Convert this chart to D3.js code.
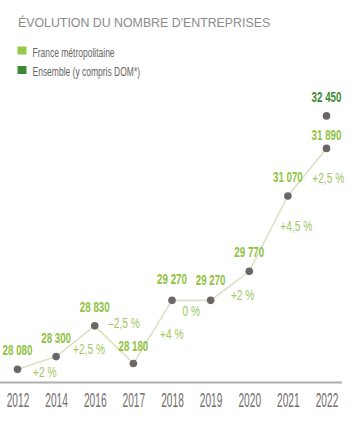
<!DOCTYPE html>
<html><head><meta charset="utf-8">
<script src="https://cdn.jsdelivr.net/npm/d3@7"></script>
<style>html,body{margin:0;padding:0;background:#fff;}svg{display:block;}</style>
</head><body>
<svg id="chart" width="359" height="441"></svg>
<script>
const title = "ÉVOLUTION DU NOMBRE D'ENTREPRISES";
const legendLabels = ["France métropolitaine", "Ensemble (y compris DOM*)"];
const years = ["2012","2014","2016","2017","2018","2019","2020","2021","2022"];
const metro = [28080,28300,28830,28180,29270,29270,29770,31070,31890];
const ensembleYears = ["2022"];
const ensemble = [32450];
const growth = ["+2 %","+2,5 %","–2,5 %","+4 %","0 %","+2 %","+4,5 %","+2,5 %"];

// layout (label placements)
const valueDy = [-14,-14,-14,-13,-16,-15,-14,-14,-8];
const growthOff = [[8,14.5],[13.5,12.5],[10,-17],[19,7],[0,15.5],[12.7,14.6],[27.7,-3],[21,11]];

const C = {light:"#8fc23f", dark:"#3d8a36", pct:"#9fc762", dot:"#6c6667", line:"#dae2c2", axis:"#b3adad", year:"#736d6d", legend:"#666666", title:"#8b8b8b"};
const FONT = "'Liberation Sans', Arial, sans-serif";

const svg = d3.select("#chart");
const fr = d3.formatLocale({decimal:",", thousands:" ", grouping:[3], currency:["","€"]}).format(",");

const x = d3.scalePoint().domain(years).range([17.5, 326.5]);
const y = d3.scaleLinear().domain([28000, 32500]).range([374, 113]);

// place a text at (ax, ay) horizontally condensed by k
function place(sel, ax, ay, k){
  sel.attr("x",0).attr("y",0)
     .attr("transform",(d,i)=>`translate(${typeof ax==="function"?ax(d,i):ax},${typeof ay==="function"?ay(d,i):ay}) scale(${k},1)`);
}

// title
svg.append("text").attr("font-family",FONT).attr("font-size",12)
  .attr("fill",C.title).text(title).call(place, 18, 26.5, 1.03);

// legend
const lg = svg.append("g");
legendLabels.forEach((t,i)=>{
  lg.append("rect").attr("x",17.5).attr("y",46.5+i*19.5).attr("width",9).attr("height",8).attr("fill", i? C.dark : "#96c84a");
  lg.append("text").attr("font-family",FONT).attr("font-size",12.5)
    .attr("fill",C.legend).text(t).call(place, 32.5, 56.5+i*19.5, 0.68);
});

// axis
const axisY = 382.5;
const xAxis = d3.axisBottom(x).tickSize(0).tickPadding(0);
const ag = svg.append("g").attr("transform",`translate(0,${axisY})`).call(xAxis);
ag.select(".domain").remove();
ag.append("line").attr("x1",0).attr("x2",342).attr("y1",0).attr("y2",0).attr("stroke",C.axis).attr("stroke-width",2);
ag.selectAll(".tick text").attr("dy",null).attr("font-family",FONT).attr("font-size",19.5)
  .attr("fill",C.year).call(place, 0, 24, 0.52);

// line
const pts = years.map((yr,i)=>({yr, v:metro[i]}));
svg.append("path").datum(pts).attr("fill","none").attr("stroke",C.line).attr("stroke-width",1.6)
  .attr("d", d3.line().x(d=>x(d.yr)).y(d=>y(d.v)));

// growth labels
svg.selectAll("text.pct").data(growth).join("text").attr("class","pct")
  .attr("text-anchor","middle").attr("font-family",FONT).attr("font-size",15).attr("fill",C.pct)
  .text(d=>d)
  .call(place,
    (d,i)=>(x(years[i])+x(years[i+1]))/2 + growthOff[i][0],
    (d,i)=>(y(metro[i])+y(metro[i+1]))/2 + growthOff[i][1], 0.68);

// dots
svg.selectAll("circle.m").data(pts).join("circle").attr("class","m")
  .attr("cx",d=>x(d.yr)).attr("cy",d=>y(d.v)).attr("r",3.8).attr("fill",C.dot);
const ens = ensembleYears.map((yr,i)=>({yr, v:ensemble[i]}));
svg.selectAll("circle.e").data(ens).join("circle").attr("class","e")
  .attr("cx",d=>x(d.yr)).attr("cy",d=>y(d.v)).attr("r",3.8).attr("fill",C.dot);

// value labels
svg.selectAll("text.val").data(pts).join("text").attr("class","val")
  .attr("text-anchor","middle").attr("font-family",FONT).attr("font-weight","bold").attr("font-size",15)
  .attr("fill",C.light).text(d=>fr(d.v))
  .call(place, d=>x(d.yr), (d,i)=>y(d.v)+valueDy[i], 0.65);
svg.selectAll("text.eval").data(ens).join("text").attr("class","eval")
  .attr("text-anchor","middle").attr("font-family",FONT).attr("font-weight","bold").attr("font-size",15)
  .attr("fill",C.dark).text(d=>fr(d.v))
  .call(place, d=>x(d.yr), d=>y(d.v)-14, 0.65);
</script>
</body></html>
